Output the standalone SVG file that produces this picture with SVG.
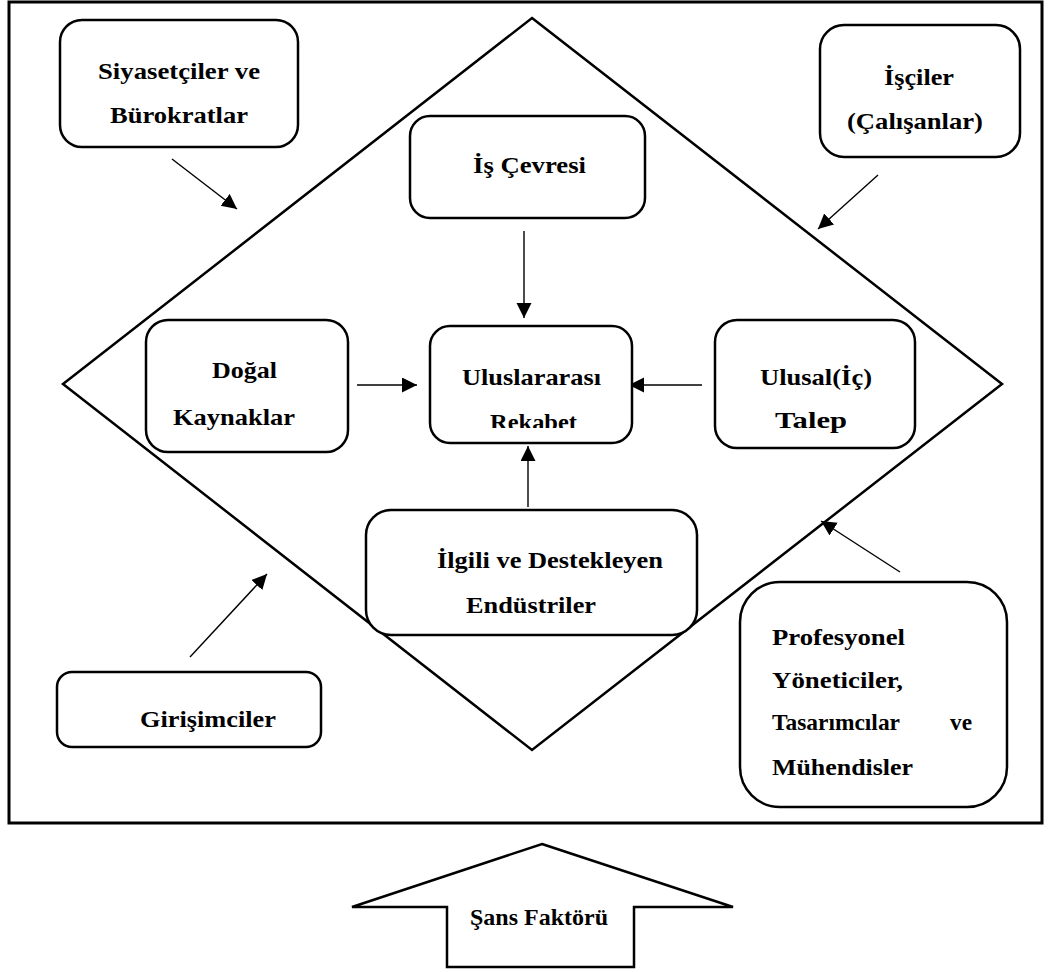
<svg xmlns="http://www.w3.org/2000/svg" width="1048" height="972" viewBox="0 0 1048 972">
<style>
.box{fill:#fff;stroke:#000;stroke-width:2.5}
.frame{fill:none;stroke:#000;stroke-width:3}
.dia{fill:none;stroke:#000;stroke-width:2.5}
.con{stroke:#000;stroke-width:1.4;fill:none;marker-end:url(#ah)}
text{font-family:"Liberation Serif","Times New Roman",serif;font-weight:bold;font-size:23px;fill:#000}
</style>
<defs>
<marker id="ah" markerUnits="userSpaceOnUse" markerWidth="16" markerHeight="16" refX="15" refY="7.5" orient="auto">
<path d="M0,0 L15,7.5 L0,15 Z" fill="#000"/>
</marker>
<clipPath id="clipR"><rect x="430" y="326" width="202" height="102"/></clipPath>
</defs>
<rect id="frame" class="frame" x="9" y="2" width="1033" height="821"/>
<polygon id="diamond" class="dia" points="532,18 1002,384 532,750 63,384"/>
<g id="connectors">
<line class="con" x1="172" y1="159" x2="237" y2="209"/>
<line class="con" x1="878" y1="175" x2="818" y2="229"/>
<line class="con" x1="524" y1="231" x2="524" y2="318"/>
<line class="con" x1="357" y1="385" x2="417" y2="385"/>
<line class="con" x1="702" y1="385" x2="629" y2="385"/>
<line class="con" x1="528" y1="507" x2="528" y2="446"/>
<line class="con" x1="190" y1="657" x2="267" y2="574"/>
<line class="con" x1="900" y1="572" x2="821" y2="521"/>
</g>
<g id="siyasetciler">
<rect class="box" x="60" y="20" width="238" height="127" rx="22"/>
<text x="98" y="79" textLength="162" lengthAdjust="spacingAndGlyphs">Siyasetçiler ve</text>
<text x="110" y="123" textLength="138" lengthAdjust="spacingAndGlyphs">Bürokratlar</text>
</g>
<g id="isciler">
<rect class="box" x="820" y="25" width="200" height="132" rx="24"/>
<text x="884" y="85" textLength="70" lengthAdjust="spacingAndGlyphs">İşçiler</text>
<text x="847" y="129" textLength="136" lengthAdjust="spacingAndGlyphs">(Çalışanlar)</text>
</g>
<g id="is-cevresi">
<rect class="box" x="410" y="116" width="235" height="102" rx="20"/>
<text x="473" y="173" textLength="113" lengthAdjust="spacingAndGlyphs">İş Çevresi</text>
</g>
<g id="dogal">
<rect class="box" x="146" y="320" width="202" height="132" rx="22"/>
<text x="212" y="378" textLength="65" lengthAdjust="spacingAndGlyphs">Doğal</text>
<text x="173" y="425" textLength="122" lengthAdjust="spacingAndGlyphs">Kaynaklar</text>
</g>
<g id="uluslararasi">
<rect class="box" x="430" y="326" width="202" height="117" rx="20"/>
<text x="462" y="385" textLength="139" lengthAdjust="spacingAndGlyphs">Uluslararası</text>
<text x="490" y="430" textLength="87" lengthAdjust="spacingAndGlyphs" clip-path="url(#clipR)">Rekabet</text>
</g>
<g id="ulusal">
<rect class="box" x="715" y="320" width="200" height="128" rx="22"/>
<text x="760" y="385" textLength="112" lengthAdjust="spacingAndGlyphs">Ulusal(İç)</text>
<text x="775" y="428" textLength="72" lengthAdjust="spacingAndGlyphs">Talep</text>
</g>
<g id="ilgili">
<rect class="box" x="366" y="510" width="331" height="125" rx="25"/>
<text x="437" y="568" textLength="226" lengthAdjust="spacingAndGlyphs">İlgili ve Destekleyen</text>
<text x="466" y="613" textLength="130" lengthAdjust="spacingAndGlyphs">Endüstriler</text>
</g>
<g id="girisimciler">
<rect class="box" x="57" y="672" width="264" height="75" rx="15"/>
<text x="140" y="727" textLength="136" lengthAdjust="spacingAndGlyphs">Girişimciler</text>
</g>
<g id="profesyonel">
<rect class="box" x="740" y="582" width="267" height="225" rx="40"/>
<text x="772" y="645" textLength="133" lengthAdjust="spacingAndGlyphs">Profesyonel</text>
<text x="772" y="688" textLength="131" lengthAdjust="spacingAndGlyphs">Yöneticiler,</text>
<text x="772" y="730" textLength="128" lengthAdjust="spacingAndGlyphs">Tasarımcılar</text>
<text x="950" y="730" textLength="22" lengthAdjust="spacingAndGlyphs">ve</text>
<text x="772" y="775" textLength="141" lengthAdjust="spacingAndGlyphs">Mühendisler</text>
</g>
<g id="sans-faktoru">
<polygon class="box" points="542,844 733,907 634,907 634,967 447,967 447,907 352,907"/>
<text x="470" y="925" textLength="138" lengthAdjust="spacingAndGlyphs">Şans Faktörü</text>
</g>
</svg>
